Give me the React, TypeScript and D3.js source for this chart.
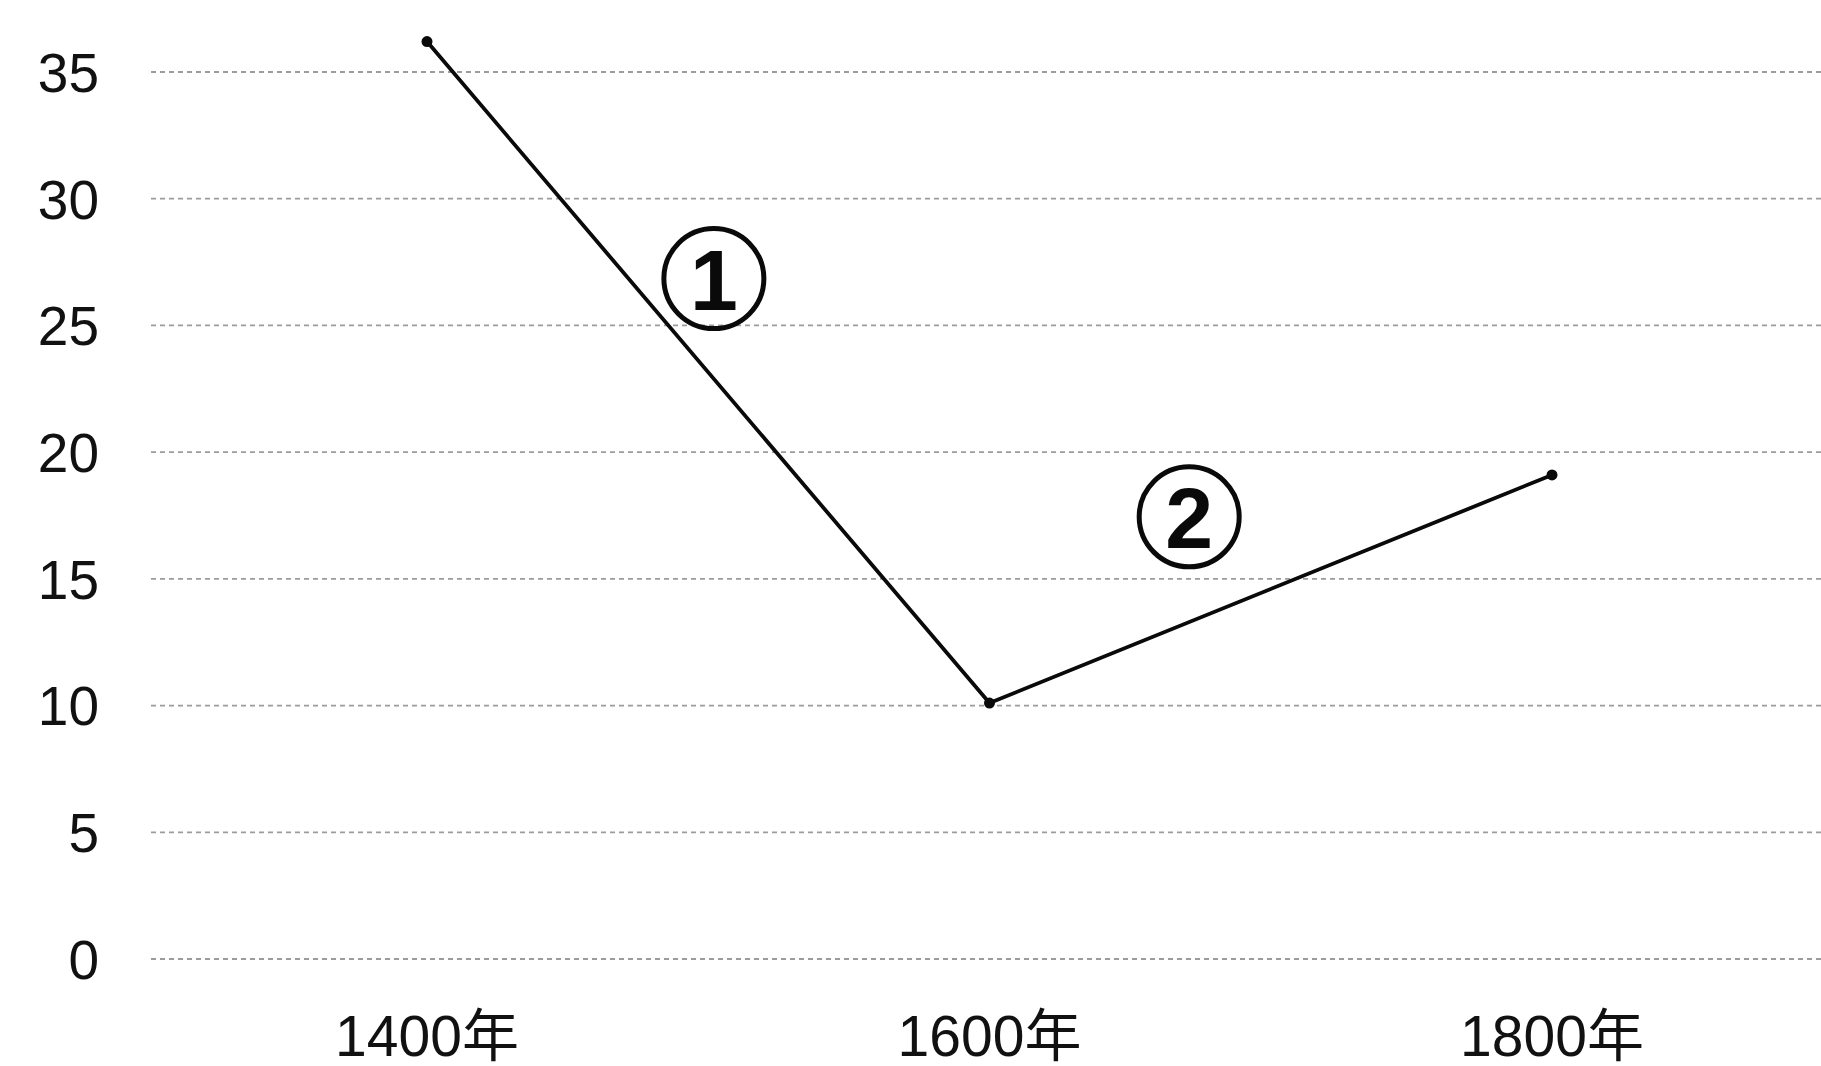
import React from "react";
import * as d3 from "d3";

const years = [1400, 1600, 1800];
const values = [36.2, 10.1, 19.1];
const xLabels = ["1400年", "1600年", "1800年"];
const yTicks = [0, 5, 10, 15, 20, 25, 30, 35];
const segmentLabels = ["1", "2"];
const segmentLabelAnchors = [
  { year: 1502, value: 26.85 },
  { year: 1671, value: 17.45 },
];

const W = 1821;
const H = 1066;

export default function App() {
  const x = d3.scaleLinear().domain([1400, 1800]).range([427, 1552]);
  const y = d3.scaleLinear().domain([0, 35]).range([959, 72]);
  const pts = years.map((yr, i) => [x(yr), y(values[i])] as [number, number]);
  const line = d3.line()(pts) || "";
  const fontLat = "'Liberation Sans', Arial, 'Noto Sans CJK SC', sans-serif";

  return (
    <svg
      width={W}
      height={H}
      style={{ position: "absolute", left: 0, top: 0, background: "#fff" }}
    >
      <rect x={0} y={0} width={W} height={H} fill="#ffffff" />
      {yTicks.map((t) => (
        <g key={t}>
          <line
            x1={151}
            x2={W}
            y1={y(t)}
            y2={y(t)}
            stroke="#9c9c9c"
            strokeWidth={1.8}
            strokeDasharray="5 4"
          />
          <text
            x={99}
            y={y(t)}
            dy="0.36em"
            textAnchor="end"
            fontFamily={fontLat}
            fontSize={55}
            fill="#111"
          >
            {t}
          </text>
        </g>
      ))}
      <path d={line} fill="none" stroke="#0a0a0a" strokeWidth={3.8} strokeLinejoin="round" />
      {pts.map((p, i) => (
        <circle key={i} cx={p[0]} cy={p[1]} r={5.5} fill="#0a0a0a" />
      ))}
      {years.map((yr, i) => (
        <text
          key={yr}
          x={x(yr)}
          y={1056}
          textAnchor="middle"
          fontFamily={fontLat}
          fontSize={57}
          fill="#111"
        >
          {xLabels[i]}
        </text>
      ))}
      {segmentLabels.map((s, i) => {
        const cx = x(segmentLabelAnchors[i].year);
        const cy = y(segmentLabelAnchors[i].value);
        return (
          <g key={s}>
            <circle cx={cx} cy={cy} r={50} fill="none" stroke="#0a0a0a" strokeWidth={5} />
            <text
              x={cx}
              y={cy}
              dy="0.36em"
              textAnchor="middle"
              fontFamily={fontLat}
              fontSize={86}
              fontWeight="bold"
              fill="#0a0a0a"
            >
              {s}
            </text>
          </g>
        );
      })}
    </svg>
  );
}
